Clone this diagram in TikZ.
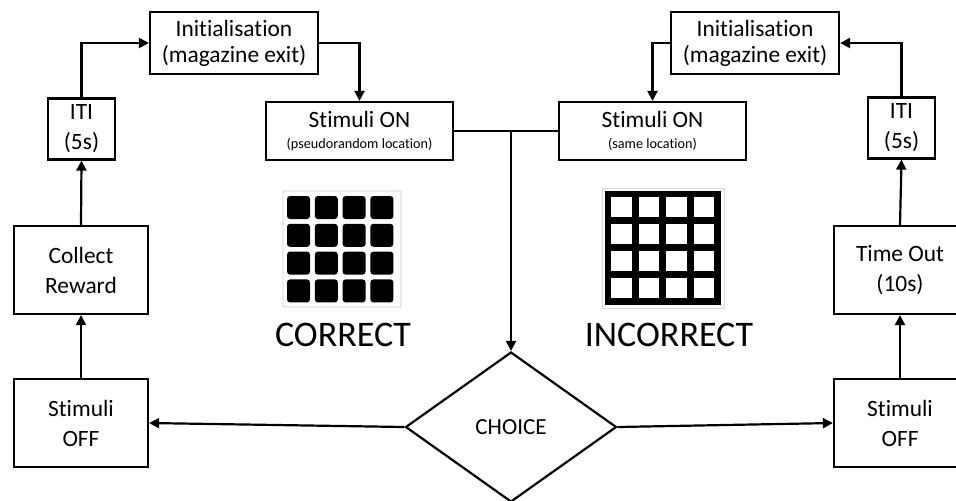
\documentclass[tikz,border=0pt]{standalone}
\usepackage{fontspec}
\setmainfont{Carlito}[Ligatures=NoCommon]
\usetikzlibrary{shapes.geometric,arrows.meta}
\tikzset{
  box/.style={draw, line width=1.1pt, align=center, inner sep=0pt,
    font=\fontsize{11.7}{15}\selectfont},
  arr/.style={-{Triangle[length=5pt,width=5pt]}, line width=1.1pt},
  big/.style={font=\fontsize{18}{20}\selectfont}
}
\newcommand{\smalltxt}[1]{{\fontsize{7.1}{8}\selectfont #1}}
\begin{document}
\begin{tikzpicture}[x=0.5pt, y=-0.5pt]
\useasboundingbox (0,0) rectangle (956,500);
% boxes of the left (correct) loop
\node[box, minimum width=84pt, minimum height=31pt, font=\fontsize{11.7}{13}\selectfont] (initL) at (234,43) {Initialisation\\(magazine exit)};
\node[box, minimum width=33.5pt, minimum height=30.5pt] (itiL) at (81.5,129) {ITI\\(5s)};
\node[box, minimum width=93.5pt, minimum height=29pt, font=\fontsize{11.7}{10.5}\selectfont] (onL) at (359.5,131) {Stimuli ON\\\smalltxt{(pseudorandom location)}};
\node[box, minimum width=67pt, minimum height=44pt] (rewL) at (81,270) {Collect\\Reward};
\node[box, minimum width=67pt, minimum height=44pt] (offL) at (81,423) {Stimuli\\OFF};
% boxes of the right (incorrect) loop
\node[box, minimum width=84pt, minimum height=31pt, font=\fontsize{11.7}{13}\selectfont] (initR) at (755,43) {Initialisation\\(magazine exit)};
\node[box, minimum width=33.5pt, minimum height=30.5pt] (itiR) at (901.5,128) {ITI\\(5s)};
\node[box, minimum width=93.5pt, minimum height=29pt, font=\fontsize{11.7}{10.5}\selectfont] (onR) at (652.5,131) {Stimuli ON\\\smalltxt{(same location)}};
\node[box, minimum width=66pt, minimum height=44pt] (timeR) at (900,270) {Time Out\\(10s)};
\node[box, minimum width=66pt, minimum height=44pt] (offR) at (900,423) {Stimuli\\OFF};
% choice
\node[draw, line width=1.1pt, diamond, inner sep=0pt, minimum width=105.5pt, minimum height=75pt,
  font=\fontsize{11.5}{13}\selectfont] (choice) at (511,427) {CHOICE};

% grids
\draw[gray!40, line width=0.4pt, rounded corners=1pt] (283,191) rectangle (401,307);
\foreach \i in {0,...,3}
  \foreach \j in {0,...,3}
    \fill[black, rounded corners=1.5pt] (287+27.8*\i,196+27.8*\j) rectangle ++(23,23);
\draw[gray!30, line width=0.4pt] (602,188) rectangle (724,308);
\fill[black] (605,191) rectangle (721,305);
\foreach \i in {0,...,3}
  \foreach \j in {0,...,3}
    \fill[white] (611+27.6*\i,197+27.1*\j) rectangle ++(20.5,20);
\node[big] (corr) at (343,335) {CORRECT};
\node[big] (incorr) at (669,335) {INCORRECT};

% arrows
\draw[arr] (itiL.north) |- (initL.west);
\draw[arr] (initL.east) -| (onL.north);
\draw[arr] (itiR.north) |- (initR.east);
\draw[arr] (initR.west) -| (onR.north);
\draw[line width=1.1pt] (onL.east) -- (onR.west);
\draw[arr] (choice.north |- onL.east) -- (choice.north);
\draw[arr] (offL.north) -- (rewL.south);
\draw[arr] (rewL.north) -- (itiL.south);
\draw[arr] (offR.north) -- (timeR.south);
\draw[arr] (timeR.north) -- (itiR.south);
\draw[arr] (choice.west) -- (offL.east);
\draw[arr] (choice.east) -- (offR.west);
\end{tikzpicture}
\end{document}
